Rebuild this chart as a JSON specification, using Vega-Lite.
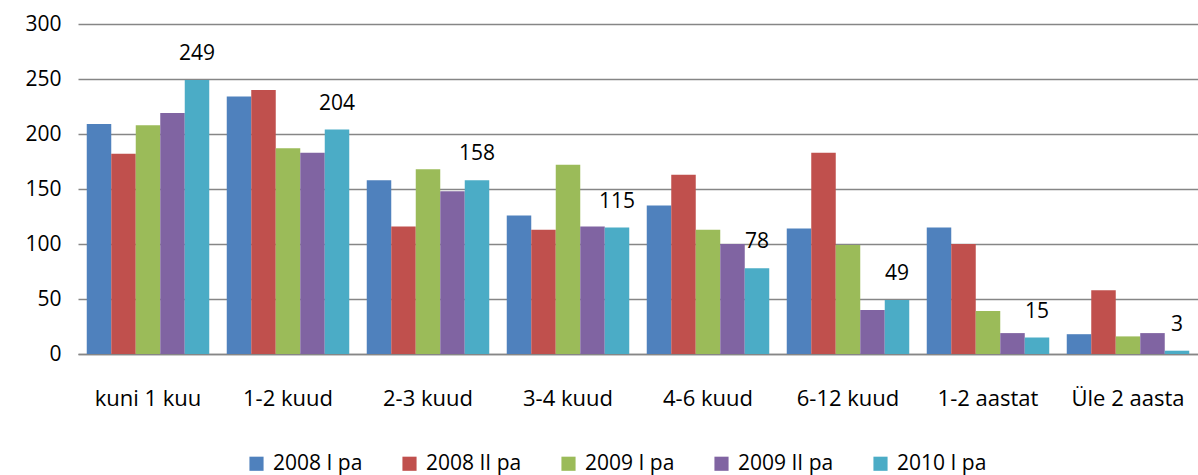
{
  "$schema": "https://vega.github.io/schema/vega-lite/v6.json",
  "width": 1120,
  "height": 330,
  "autosize": {"type": "none"},
  "padding": {"left": 78, "top": 24, "right": 0, "bottom": 121},
  "background": "white",
  "config": {
    "font": "Open Sans",
    "view": {"stroke": null}
  },
  "data": {
    "values": [
      {"cat": "kuni 1 kuu", "s": "2008 I pa", "v": 209},
      {"cat": "kuni 1 kuu", "s": "2008 II pa", "v": 182},
      {"cat": "kuni 1 kuu", "s": "2009 I pa", "v": 208},
      {"cat": "kuni 1 kuu", "s": "2009 II pa", "v": 219},
      {"cat": "kuni 1 kuu", "s": "2010 I pa", "v": 249},
      {"cat": "1-2 kuud", "s": "2008 I pa", "v": 234},
      {"cat": "1-2 kuud", "s": "2008 II pa", "v": 240},
      {"cat": "1-2 kuud", "s": "2009 I pa", "v": 187},
      {"cat": "1-2 kuud", "s": "2009 II pa", "v": 183},
      {"cat": "1-2 kuud", "s": "2010 I pa", "v": 204},
      {"cat": "2-3 kuud", "s": "2008 I pa", "v": 158},
      {"cat": "2-3 kuud", "s": "2008 II pa", "v": 116},
      {"cat": "2-3 kuud", "s": "2009 I pa", "v": 168},
      {"cat": "2-3 kuud", "s": "2009 II pa", "v": 148},
      {"cat": "2-3 kuud", "s": "2010 I pa", "v": 158},
      {"cat": "3-4 kuud", "s": "2008 I pa", "v": 126},
      {"cat": "3-4 kuud", "s": "2008 II pa", "v": 113},
      {"cat": "3-4 kuud", "s": "2009 I pa", "v": 172},
      {"cat": "3-4 kuud", "s": "2009 II pa", "v": 116},
      {"cat": "3-4 kuud", "s": "2010 I pa", "v": 115},
      {"cat": "4-6 kuud", "s": "2008 I pa", "v": 135},
      {"cat": "4-6 kuud", "s": "2008 II pa", "v": 163},
      {"cat": "4-6 kuud", "s": "2009 I pa", "v": 113},
      {"cat": "4-6 kuud", "s": "2009 II pa", "v": 100},
      {"cat": "4-6 kuud", "s": "2010 I pa", "v": 78},
      {"cat": "6-12 kuud", "s": "2008 I pa", "v": 114},
      {"cat": "6-12 kuud", "s": "2008 II pa", "v": 183},
      {"cat": "6-12 kuud", "s": "2009 I pa", "v": 99},
      {"cat": "6-12 kuud", "s": "2009 II pa", "v": 40},
      {"cat": "6-12 kuud", "s": "2010 I pa", "v": 49},
      {"cat": "1-2 aastat", "s": "2008 I pa", "v": 115},
      {"cat": "1-2 aastat", "s": "2008 II pa", "v": 100},
      {"cat": "1-2 aastat", "s": "2009 I pa", "v": 39},
      {"cat": "1-2 aastat", "s": "2009 II pa", "v": 19},
      {"cat": "1-2 aastat", "s": "2010 I pa", "v": 15},
      {"cat": "Üle 2 aasta", "s": "2008 I pa", "v": 18},
      {"cat": "Üle 2 aasta", "s": "2008 II pa", "v": 58},
      {"cat": "Üle 2 aasta", "s": "2009 I pa", "v": 16},
      {"cat": "Üle 2 aasta", "s": "2009 II pa", "v": 19},
      {"cat": "Üle 2 aasta", "s": "2010 I pa", "v": 3}
    ]
  },
  "encoding": {
    "x": {
      "field": "cat",
      "type": "nominal",
      "sort": ["kuni 1 kuu", "1-2 kuud", "2-3 kuud", "3-4 kuud", "4-6 kuud", "6-12 kuud", "1-2 aastat", "Üle 2 aasta"],
      "scale": {"paddingInner": 0.125, "paddingOuter": 0.0625},
      "axis": {
        "title": null,
        "labelAngle": 0,
        "labelFontSize": 22,
        "labelColor": "#000000",
        "labelPadding": 34,
        "ticks": false,
        "domainColor": "#868686",
        "domainWidth": 1.5
      }
    },
    "xOffset": {
      "field": "s",
      "type": "nominal",
      "scale": {"domain": ["2008 I pa", "2008 II pa", "2009 I pa", "2009 II pa", "2010 I pa"], "paddingInner": 0, "paddingOuter": 0}
    },
    "y": {
      "field": "v",
      "type": "quantitative",
      "scale": {"domain": [0, 300], "nice": false},
      "axis": {
        "title": null,
        "values": [0, 50, 100, 150, 200, 250, 300],
        "labelFontSize": 21,
        "labelColor": "#000000",
        "labelPadding": 17,
        "ticks": false,
        "domain": false,
        "gridColor": "#868686",
        "gridWidth": 1.5
      }
    }
  },
  "layer": [
    {
      "mark": {"type": "bar"},
      "encoding": {
        "color": {
          "field": "s",
          "type": "nominal",
          "scale": {
            "domain": ["2008 I pa", "2008 II pa", "2009 I pa", "2009 II pa", "2010 I pa"],
            "range": ["#4F81BD", "#C0504D", "#9BBB59", "#8064A2", "#4BACC6"]
          },
          "legend": {
            "title": null,
            "orient": "none",
            "legendX": 168,
            "legendY": 429,
            "direction": "horizontal",
            "symbolType": "square",
            "symbolSize": 200,
            "symbolStrokeWidth": 0,
            "labelFontSize": 21,
            "labelColor": "#000000",
            "labelOffset": 6,
            "columnPadding": 36
          }
        }
      }
    },
    {
      "transform": [{"filter": "datum.s === '2010 I pa'"}],
      "mark": {"type": "text", "baseline": "alphabetic", "dy": -20, "fontSize": 21, "color": "#000000"},
      "encoding": {
        "text": {"field": "v", "type": "quantitative"}
      }
    }
  ]
}
